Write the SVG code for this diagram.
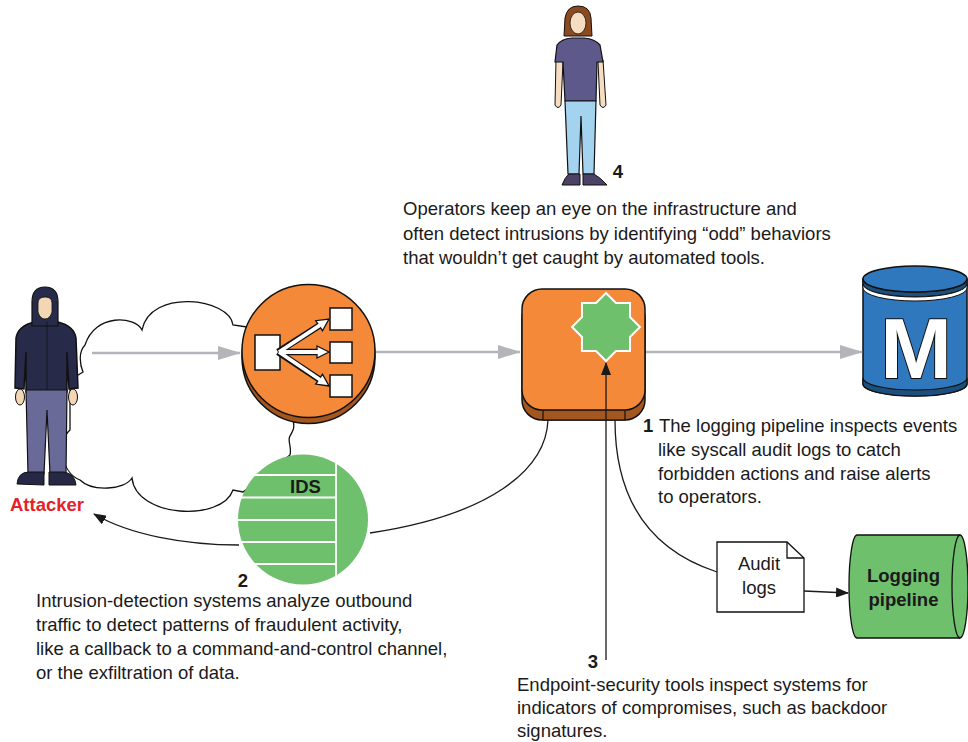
<svg xmlns="http://www.w3.org/2000/svg" width="968" height="742" viewBox="0 0 968 742">
  <style>
    .t { font-family: "Liberation Sans", Arial, sans-serif; font-size: 18.5px; fill: #1a1a1a; }
    .b { font-weight: bold; }
    .ln { fill: none; stroke: #1a1a1a; stroke-width: 1.3; }
    .gray { fill: none; stroke: #b4b5ba; stroke-width: 2.6; }
    .ol { stroke: #111; stroke-width: 1.5; }
  </style>
  <defs>
    <marker id="ah" markerUnits="userSpaceOnUse" markerWidth="14" markerHeight="10" refX="12" refY="5" orient="auto">
      <path d="M0,0 L13,5 L0,10 Z" fill="#1a1a1a"/>
    </marker>
    <marker id="gah" markerUnits="userSpaceOnUse" markerWidth="24" markerHeight="14" refX="22" refY="7" orient="auto">
      <path d="M0,0 L23,7 L0,14 Z" fill="#b4b5ba"/>
    </marker>
  </defs>

  <rect width="968" height="742" fill="#ffffff"/>

  <!-- internet cloud -->
  <g id="cloud">
    <path d="M247,327 L233,325 C230,298 150,288 142,330 C135,316 95,313 85,345 C78,352 80,365 83,372 L70,380 L70,430 C58,440 60,472 80,480 C92,492 125,490 132,478 C136,518 222,522 233,490 L243,492 L290,455 C292,447 287,440 290,436 C293,431 295,428 293,420 L300,350 Z" fill="#ffffff" stroke="#111" stroke-width="1.3"/>
  </g>

  <!-- attacker -->
  <g id="attacker">
    <path d="M16,338 Q18,326 34,322 L58,322 Q74,326 76,338 L78,388 L69,389 L67,352 L67,392 L26,392 L26,352 L24,389 L15,388 Z" fill="#282a4a" class="ol" stroke-width="1.2"/>
    <ellipse cx="20" cy="397" rx="4.5" ry="8" fill="#f3d6b4" stroke="#111" stroke-width="1"/>
    <ellipse cx="73" cy="397" rx="4.5" ry="8" fill="#f3d6b4" stroke="#111" stroke-width="1"/>
    <path d="M26,390 L67,390 L66,474 L50,474 L47,410 L44,474 L28,474 Z" fill="#6a6a98" stroke="#111" stroke-width="1.2"/>
    <path d="M17,484 Q18,472 29,472 L44,472 L44,485 Z" fill="#262845" stroke="#111" stroke-width="1"/>
    <path d="M49,472 L64,472 Q75,474 76,485 L49,485 Z" fill="#262845" stroke="#111" stroke-width="1"/>
    <path d="M32,326 L32,302 Q32,287 45,287 Q58,287 58,302 L58,326 Z" fill="#282a4a" stroke="#111" stroke-width="1.2"/>
    <path d="M38,303 Q38,297 45,297 Q52,297 52,303 L52,312 Q50,319 45,319 Q40,319 38,312 Z" fill="#f3d6b4" stroke="#111" stroke-width="0.8"/>
    <line x1="47" y1="322" x2="47" y2="390" stroke="#111" stroke-width="0.8"/>
    <text x="10" y="511" class="t b" fill="#e3222a" style="fill:#e3222a">Attacker</text>
  </g>

  <!-- operator -->
  <g id="operator">
    <path d="M564,36 L565,18 Q567,6 578,6 Q590,6 591,18 L592,36 Z" fill="#8b4a20" stroke="#111" stroke-width="1"/>
    <ellipse cx="578" cy="23" rx="8" ry="11" fill="#f6dcc0" stroke="#111" stroke-width="0.8"/>
    <path d="M556,60 L555,105 Q558,110 561,105 L563,62 Z" fill="#f6dcc0" stroke="#111" stroke-width="1"/>
    <path d="M598,62 L600,105 Q603,110 606,105 L603,60 Z" fill="#f6dcc0" stroke="#111" stroke-width="1"/>
    <path d="M557,45 Q561,39 572,38 L584,38 Q595,39 600,45 L603,62 L597,62 L596,101 L565,101 L563,62 L555,62 Z" fill="#5d5a8b" stroke="#111" stroke-width="1.2"/>
    <path d="M565,101 L596,101 L594,174 L583,174 L581,116 L579,174 L568,174 Z" fill="#a3d3ee" stroke="#111" stroke-width="1.2"/>
    <path d="M562,185 Q565,177 569,174 L580,174 L580,185 Z" fill="#4b4264" stroke="#111" stroke-width="1"/>
    <path d="M583,174 L594,174 Q601,178 607,185 L583,185 Z" fill="#4b4264" stroke="#111" stroke-width="1"/>
  </g>

  <!-- load balancer -->
  <g id="load-balancer">
    <circle cx="308.5" cy="357" r="66.5" fill="#a4561f" class="ol" stroke-width="2"/>
    <circle cx="308.5" cy="351" r="66.5" fill="#f4893a" class="ol" stroke-width="2"/>
    <rect x="255" y="335" width="25" height="35" fill="#fff" stroke="#111" stroke-width="1.5"/>
    <g stroke="#111" stroke-width="6.5" fill="none">
      <path d="M278,352 L319.1,325.7"/>
      <path d="M278,352 L317,352"/>
      <path d="M278,352 L319.1,379.2"/>
    </g>
    <g fill="#fff" stroke="#111" stroke-width="1.3">
      <polygon points="329,319 322.5,330.7 315.7,320.7"/>
      <polygon points="329,352 317,346 317,358"/>
      <polygon points="329,386 315.7,384.1 322.5,374.3"/>
    </g>
    <g stroke="#fff" stroke-width="3.8" fill="none">
      <path d="M279,352 L320,325.2"/>
      <path d="M279,352 L318,352"/>
      <path d="M279,352 L320,379.8"/>
    </g>
    <rect x="330" y="308" width="22" height="22" fill="#fff" stroke="#111" stroke-width="1.5"/>
    <rect x="330" y="342" width="22" height="21" fill="#fff" stroke="#111" stroke-width="1.5"/>
    <rect x="330" y="375" width="22" height="22" fill="#fff" stroke="#111" stroke-width="1.5"/>
  </g>

  <!-- intrusion detection system -->
  <g id="ids">
    <circle cx="303" cy="519.5" r="65" fill="#6ec06d"/>
    <g stroke="#fff" stroke-width="1.8">
      <line x1="245" y1="475" x2="336" y2="475"/>
      <line x1="238" y1="497.5" x2="336" y2="497.5"/>
      <line x1="238" y1="520" x2="336" y2="520"/>
      <line x1="238" y1="542" x2="336" y2="542"/>
      <line x1="245" y1="564" x2="336" y2="564"/>
      <line x1="336" y1="463" x2="336" y2="576"/>
    </g>
    <text x="305.5" y="493" class="t b" text-anchor="middle">IDS</text>
  </g>

  <!-- host with endpoint security agent -->
  <g id="host">
    <rect x="522" y="298" width="123" height="122" rx="20" fill="#a4561f" class="ol"/>
    <rect x="543" y="405" width="82" height="15" fill="#a4561f" stroke="#111" stroke-width="1.2"/>
    <rect x="522" y="289" width="123" height="121" rx="20" fill="#f4893a" class="ol"/>
    <polygon points="606,293 615.95,302.98 630.04,302.96 630.02,317.05 640,327 630.02,336.95 630.04,351.04 615.95,351.02 606,361 596.05,351.02 581.96,351.04 581.98,336.95 572,327 581.98,317.05 581.96,302.96 596.05,302.98" fill="#6ec06d" stroke="#fff" stroke-width="2"/>
  </g>

  <!-- metrics database -->
  <g id="metrics">
    <path d="M863,279 L863,384 A52,12 0 0 0 967,384 L967,279 Z" fill="#2f78be" class="ol"/>
    <path d="M863,378 A52,12 0 0 0 967,378 L967,384 A52,12 0 0 1 863,384 Z" fill="#1d4f7c" stroke="#111" stroke-width="1.2"/>
    <path d="M863,279 A52,13 0 0 0 967,279 L967,284 A52,13 0 0 1 863,284 Z" fill="#1d4f7c" stroke="#111" stroke-width="1.2"/>
    <path d="M863,284 A52,13 0 0 0 967,284 L967,288 A52,13 0 0 1 863,288 Z" fill="#fff" stroke="#111" stroke-width="1"/>
    <ellipse cx="915" cy="279" rx="52" ry="13" fill="#2f78be" class="ol"/>
    <text x="916" y="378" font-family="Liberation Sans, Arial, sans-serif" font-weight="bold" font-size="86" text-anchor="middle" fill="#fff" stroke="#111" stroke-width="2" paint-order="stroke">M</text>
  </g>

  <!-- audit log file -->
  <g id="audit-logs">
    <path d="M717,542 L787,542 L804,558 L804,612 L717,612 Z" fill="#fff" stroke="#111" stroke-width="1.3"/>
    <path d="M787,542 L787,558 L804,558" fill="none" stroke="#111" stroke-width="1.3"/>
    <text x="759" y="570" class="t" text-anchor="middle">Audit</text>
    <text x="759" y="594" class="t" text-anchor="middle">logs</text>
  </g>

  <!-- logging pipeline -->
  <g id="logging-pipeline">
    <path d="M857,535 L960,535 A8,51.5 0 0 1 960,638 L857,638 A8,51.5 0 0 1 857,535 Z" fill="#6ec06d" stroke="#111" stroke-width="1.3"/>
    <path d="M960,535 A8,51.5 0 0 0 960,638" fill="none" stroke="#111" stroke-width="1.3"/>
    <text x="903.5" y="582" class="t b" text-anchor="middle">Logging</text>
    <text x="903.5" y="606" class="t b" text-anchor="middle">pipeline</text>
  </g>

  <!-- connectors -->
  <g id="connectors">
    <path class="gray" d="M92,353 L240,353" marker-end="url(#gah)"/>
    <path class="gray" d="M376,352 L520,352" marker-end="url(#gah)"/>
    <path class="gray" d="M646,352 L862,352" marker-end="url(#gah)"/>
    <path class="ln" d="M548,420 C546,470 490,515 370,533"/>
    <path class="ln" d="M239,545 C185,545 130,535 94,514" marker-end="url(#ah)"/>
    <path class="ln" d="M615,420 C615,500 650,550 717,572"/>
    <path class="ln" d="M804,591 L848,593" marker-end="url(#ah)"/>
    <path class="ln" d="M606,660 L606,363" marker-end="url(#ah)"/>
  </g>

  <!-- callouts -->
  <g id="callouts">
    <text x="618" y="178" class="t b" text-anchor="middle">4</text>
    <text class="t">
      <tspan x="403" y="215">Operators keep an eye on the infrastructure and</tspan>
      <tspan x="403" y="240">often detect intrusions by identifying “odd” behaviors</tspan>
      <tspan x="403" y="264">that wouldn’t get caught by automated tools.</tspan>
    </text>

    <text x="643" y="432" class="t b">1</text>
    <text class="t">
      <tspan x="659" y="432">The logging pipeline inspects events</tspan>
      <tspan x="658" y="456">like syscall audit logs to catch</tspan>
      <tspan x="658" y="480">forbidden actions and raise alerts</tspan>
      <tspan x="658" y="503">to operators.</tspan>
    </text>

    <text x="243" y="587" class="t b" text-anchor="middle">2</text>
    <text class="t">
      <tspan x="36" y="607">Intrusion-detection systems analyze outbound</tspan>
      <tspan x="36" y="631">traffic to detect patterns of fraudulent activity,</tspan>
      <tspan x="36" y="655">like a callback to a command-and-control channel,</tspan>
      <tspan x="36" y="679">or the exfiltration of data.</tspan>
    </text>

    <text x="593" y="668" class="t b" text-anchor="middle">3</text>
    <text class="t">
      <tspan x="517" y="691">Endpoint-security tools inspect systems for</tspan>
      <tspan x="517" y="714">indicators of compromises, such as backdoor</tspan>
      <tspan x="517" y="737">signatures.</tspan>
    </text>
  </g>
</svg>
